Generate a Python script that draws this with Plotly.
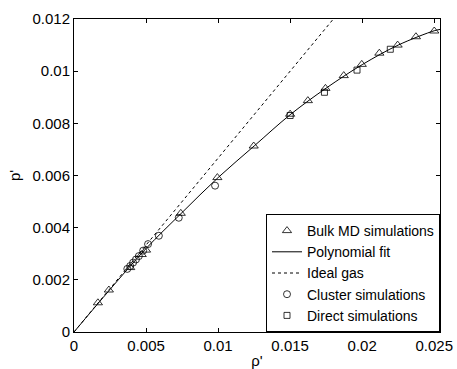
import plotly.graph_objects as go

# Bulk MD simulations (triangles)
bulk_rho = [0.00166, 0.00242, 0.0039, 0.0047, 0.0050, 0.00741, 0.00995, 0.01247, 0.0150,
            0.01623, 0.01745, 0.01872, 0.01997, 0.02119, 0.02246, 0.02373, 0.0250]
bulk_p = [0.00112, 0.00161, 0.00247, 0.00297, 0.00314, 0.00455, 0.00592, 0.00713, 0.00835,
          0.00887, 0.00934, 0.00983, 0.01026, 0.01069, 0.0110, 0.01132, 0.01154]

# Polynomial fit
fit_rho = [0.0, 0.0025, 0.005, 0.0075, 0.01, 0.0125, 0.015, 0.0175, 0.02, 0.0225, 0.025, 0.0254]
fit_p = [0.0, 0.00163, 0.0032, 0.00458, 0.00592, 0.00713, 0.00833, 0.00935, 0.01025, 0.0110, 0.01155, 0.0116]

# Ideal gas
ideal_rho = [0.0, 0.0180]
ideal_p = [0.0, 0.0120]

# Cluster simulations (circles)
cluster_rho = [0.0037, 0.0039, 0.0041, 0.0043, 0.0045, 0.0048, 0.00514, 0.00589, 0.00727, 0.00979]
cluster_p = [0.00242, 0.00253, 0.00266, 0.00278, 0.00291, 0.00312, 0.00337, 0.00369, 0.00438, 0.00561]

# Direct simulations (squares)
direct_rho = [0.0150, 0.01738, 0.01964, 0.02195]
direct_p = [0.00830, 0.00919, 0.01004, 0.01084]

x_ticks = [0, 0.005, 0.01, 0.015, 0.02, 0.025]
x_labels = ["0", "0.005", "0.01", "0.015", "0.02", "0.025"]
y_ticks = [0, 0.002, 0.004, 0.006, 0.008, 0.01, 0.012]
y_labels = ["0", "0.002", "0.004", "0.006", "0.008", "0.01", "0.012"]

fig = go.Figure()
fig.add_trace(go.Scatter(x=fit_rho, y=fit_p, mode="lines", name="Polynomial fit",
                         line=dict(color="black", width=1, shape="spline"), legendrank=2))
fig.add_trace(go.Scatter(x=ideal_rho, y=ideal_p, mode="lines", name="Ideal gas",
                         line=dict(color="black", width=1, dash="3px,3px"), legendrank=3))
fig.add_trace(go.Scatter(x=bulk_rho, y=bulk_p, mode="markers", name="Bulk MD simulations",
                         marker=dict(symbol="triangle-up-open", size=8, color="black",
                                     line=dict(width=0.8, color="black")), legendrank=1))
fig.add_trace(go.Scatter(x=cluster_rho, y=cluster_p, mode="markers", name="Cluster simulations",
                         marker=dict(symbol="circle-open", size=7, color="black",
                                     line=dict(width=0.8, color="black")), legendrank=4))
fig.add_trace(go.Scatter(x=direct_rho, y=direct_p, mode="markers", name="Direct simulations",
                         marker=dict(symbol="square-open", size=6, color="black",
                                     line=dict(width=0.8, color="black")), legendrank=5))

axis_common = dict(showgrid=False, zeroline=False, showline=True, linecolor="black", linewidth=1,
                   mirror="ticks", ticks="inside", ticklen=4, tickcolor="black", automargin=False,
                   tickfont=dict(family="Liberation Sans, Arial", size=15, color="black"))

fig.update_layout(
    width=457, height=369,
    margin=dict(l=74, r=17, t=19, b=37),
    paper_bgcolor="white", plot_bgcolor="white",
    font=dict(family="Liberation Sans, Arial", size=14, color="black"),
    xaxis=dict(range=[0, 0.0254], tickvals=x_ticks, ticktext=x_labels,
               title=dict(text="ρ'", font=dict(size=15), standoff=4), **axis_common),
    yaxis=dict(range=[0, 0.012], tickvals=y_ticks, ticktext=y_labels,
               title=dict(text="p'", font=dict(size=15), standoff=8), **axis_common),
    legend=dict(x=1, y=0, xanchor="right", yanchor="bottom", bgcolor="white",
                bordercolor="black", borderwidth=1, tracegroupgap=0,
                font=dict(family="Liberation Sans, Arial", size=14, color="black"),
                itemwidth=30),
    showlegend=True,
)

fig.write_html("out.html", config={"displayModeBar": False},
               post_script="document.body.style.margin='0';document.body.style.overflow='hidden';")
